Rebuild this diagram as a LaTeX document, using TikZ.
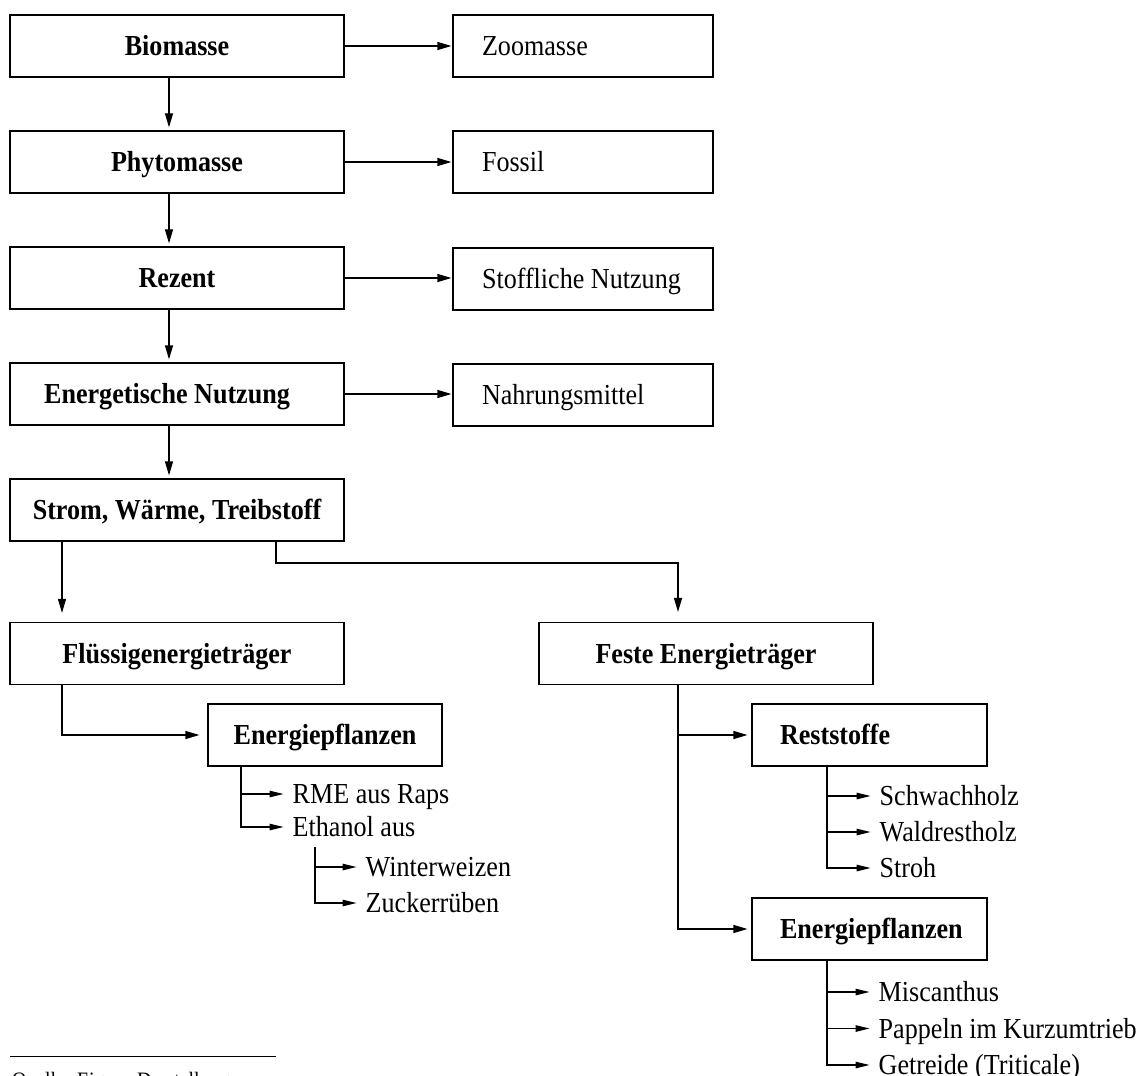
\documentclass[tikz,border=0pt]{standalone}
\usepackage{fontspec}
\setmainfont{Liberation Serif}[FakeStretch=0.9]
\usetikzlibrary{arrows.meta}
\newcommand\lbx[2]{\makebox[#1][l]{#2}}
\begin{document}
\begin{tikzpicture}[x=1pt,y=-1pt,
  every node/.style={font=\fontsize{29}{34}\selectfont},
  box/.style={draw, line width=1.2pt, inner sep=0pt, text height=19pt, text depth=0pt, minimum height=62pt},
  mainbox/.style={box, minimum width=334pt, font=\fontsize{29}{34}\selectfont\bfseries},
  sidebox/.style={box, minimum width=260pt},
  subbox/.style={box, minimum width=235pt, font=\fontsize{29}{34}\selectfont\bfseries},
  item/.style={anchor=west, inner xsep=8.5pt, inner ysep=0pt, text height=19pt, text depth=0pt},
  arr/.style={line width=1.2pt, -{Triangle[length=14pt,width=8pt]}},
  iarr/.style={line width=1.2pt, -{Triangle[length=14pt,width=6.5pt]}, shorten >=0.5pt}]
\fill[white] (0,0) rectangle (1147,1075);
\useasboundingbox (0,0) rectangle (1147,1075);
% main column
\node[mainbox] (bio) at (177,46) {Biomasse};
\node[mainbox] (phy) at (177,162) {Phytomasse};
\node[mainbox] (rez) at (177,278) {Rezent};
\node[mainbox] (ene) at (177,394) {\hspace*{-20pt}Energetische Nutzung};
\node[mainbox] (str) at (177,510) {Strom, Wärme, Treibstoff};
\node[mainbox] (flu) at (177,653.5) {Flüssigenergieträger};
\node[mainbox] (fes) at (706,653.5) {Feste Energieträger};
% side column
\node[sidebox] (zoo) at (583,46) {\lbx{202pt}{Zoomasse}};
\node[sidebox] (fos) at (583,162) {\lbx{202pt}{Fossil}};
\node[sidebox] (sto) at (583,279) {\lbx{202pt}{Stoffliche Nutzung}};
\node[sidebox] (nah) at (583,395) {\lbx{202pt}{Nahrungsmittel}};
% sub boxes
\node[subbox, minimum width=234pt] (epl) at (325,735) {Energiepflanzen};
\node[subbox] (rst) at (869.5,735) {\lbx{179pt}{Reststoffe}};
\node[subbox] (epr) at (869.5,929) {\lbx{179pt}{Energiepflanzen}};
% items
\node[item] (rme) at (284,794) {RME aus Raps};
\node[item] (eth) at (284,827) {Ethanol aus};
\node[item] (win) at (357,867) {Winterweizen};
\node[item] (zuc) at (357,903) {Zuckerrüben};
\node[item] (sch) at (871,796) {Schwachholz};
\node[item] (wal) at (871,832) {Waldrestholz};
\node[item] (stro) at (871,868) {Stroh};
\node[item] (mis) at (870,992) {Miscanthus};
\node[item] (pap) at (870,1028.5) {Pappeln im Kurzumtrieb};
\node[item] (get) at (870,1065) {Getreide (Triticale)};
% helper coordinates
\coordinate (xb) at (62,0);
\coordinate (xc) at (276,0);
\coordinate (j1) at (678,563);
\coordinate (xe) at (241,0);
\coordinate (e1) at (315,847);
\coordinate (xg) at (827,0);
% connectors
\draw[arr, shorten >=1pt] (bio.east) -- (bio.east -| zoo.west);
\draw[arr, shorten >=1pt] (phy.east) -- (phy.east -| fos.west);
\draw[arr, shorten >=1pt] (rez.east) -- (rez.east -| sto.west);
\draw[arr, shorten >=1pt] (ene.east) -- (ene.east -| nah.west);
\draw[arr, shorten >=3pt] ([xshift=-8pt]bio.south) -- ([xshift=-8pt]phy.north);
\draw[arr, shorten >=3pt] ([xshift=-8pt]phy.south) -- ([xshift=-8pt]rez.north);
\draw[arr, shorten >=3pt] ([xshift=-8pt]rez.south) -- ([xshift=-8pt]ene.north);
\draw[arr, shorten >=3pt] ([xshift=-8pt]ene.south) -- ([xshift=-8pt]str.north);
\draw[arr, shorten >=9pt] (str.south -| xb) -- (flu.north -| xb);
\draw[arr, shorten >=10pt] (str.south -| xc) |- (j1) -- (fes.north -| j1);
\draw[arr, shorten >=8pt] (flu.south -| xb) |- (epl.west);
\draw[arr, shorten >=4pt] (fes.south -| j1) |- (rst.west);
\draw[arr, shorten >=4pt] (fes.south -| j1) |- (epr.west);
\draw[iarr] (epl.south -| xe) |- (rme.west);
\draw[iarr] (epl.south -| xe) |- (eth.west);
\draw[iarr] (e1) |- (win.west);
\draw[iarr] (e1) |- (zuc.west);
\draw[iarr] (rst.south -| xg) |- (sch.west);
\draw[iarr] (rst.south -| xg) |- (wal.west);
\draw[iarr] (rst.south -| xg) |- (stro.west);
\draw[iarr] (epr.south -| xg) |- (mis.west);
\draw[iarr] (epr.south -| xg) |- (pap.west);
\draw[iarr] (epr.south -| xg) |- (get.west);
% footnote
\coordinate (f1) at (10,1056);
\coordinate (f2) at (276,1056);
\draw[line width=0.9pt] (f1) -- (f2);
\node[font=\fontsize{22}{26}\selectfont, anchor=base west, inner sep=0pt] (src) at (12,1087) {Quelle: Eigene Darstellung};
\end{tikzpicture}
\end{document}
